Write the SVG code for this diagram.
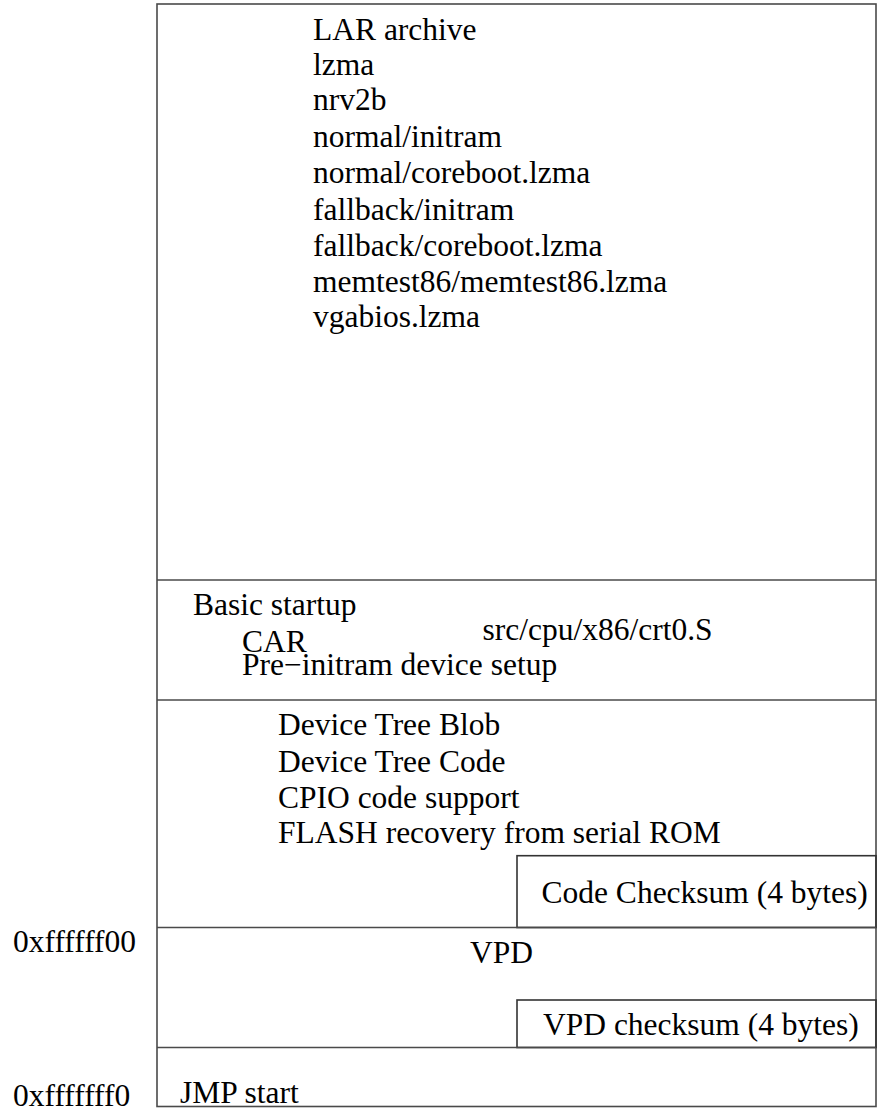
<svg xmlns="http://www.w3.org/2000/svg" width="879" height="1111" viewBox="0 0 879 1111">
<style>
.box{fill:none;stroke:#4a4a4a;stroke-width:1.6}
.sbox{fill:none;stroke:#333;stroke-width:1.6}
text{font-family:"Liberation Serif","Times New Roman",serif;font-size:31.5px;fill:#000}
</style>
<rect width="879" height="1111" fill="#fff"/>
<g id="rom">
<rect class="box" x="157" y="4" width="719" height="1102.5"/>
</g>
<g id="lar">
<text x="313" y="40">LAR archive</text>
<text x="313" y="74.5">lzma</text>
<text x="313" y="110">nrv2b</text>
<text x="313" y="146.5">normal/initram</text>
<text x="313" y="183">normal/coreboot.lzma</text>
<text x="313" y="219.5">fallback/initram</text>
<text x="313" y="255.5">fallback/coreboot.lzma</text>
<text x="313" y="291.5">memtest86/memtest86.lzma</text>
<text x="313" y="327">vgabios.lzma</text>
</g>
<g id="startup">
<line class="box" x1="157" y1="580" x2="876" y2="580"/>
<text x="193" y="615">Basic startup</text>
<text x="242" y="651.5">CAR</text>
<text x="242" y="675">Pre−initram device setup</text>
<text x="482.5" y="640">src/cpu/x86/crt0.S</text>
</g>
<g id="devtree">
<line class="box" x1="157" y1="700" x2="876" y2="700"/>
<text x="278" y="735">Device Tree Blob</text>
<text x="278" y="771.5">Device Tree Code</text>
<text x="278" y="807.5">CPIO code support</text>
<text x="278" y="843">FLASH recovery from serial ROM</text>
</g>
<g id="codechecksum">
<rect class="sbox" x="517" y="855.7" width="359" height="71.8"/>
<text x="541.5" y="903">Code Checksum (4 bytes)</text>
</g>
<g id="vpd">
<line class="box" x1="157" y1="927.5" x2="876" y2="927.5"/>
<text x="470" y="963">VPD</text>
</g>
<g id="vpdchecksum">
<rect class="sbox" x="517" y="1000" width="359" height="47.5"/>
<text x="543" y="1035">VPD checksum (4 bytes)</text>
</g>
<g id="jmp">
<line class="box" x1="157" y1="1047.5" x2="876" y2="1047.5"/>
<text x="180" y="1103">JMP start</text>
</g>
<g id="addr">
<text x="13" y="951.5">0xffffff00</text>
<text x="13" y="1106">0xfffffff0</text>
</g>
</svg>
